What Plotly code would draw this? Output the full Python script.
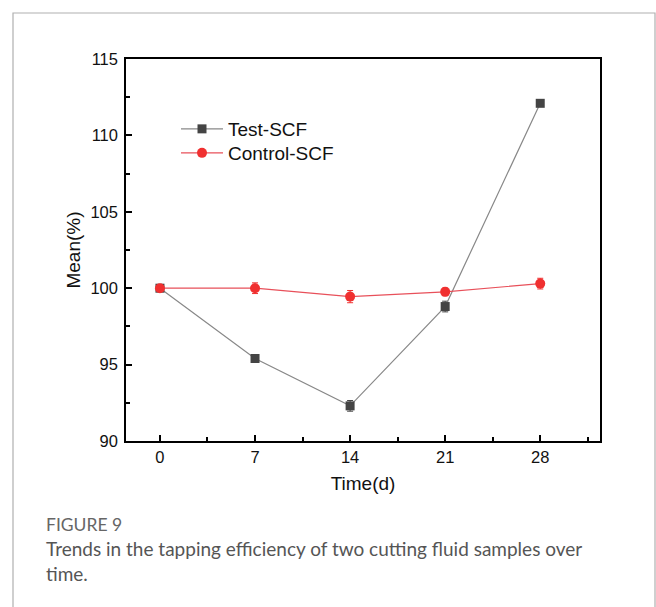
import plotly.graph_objects as go

days = [0, 7, 14, 21, 28]
test_mean = [100.0, 95.4, 92.3, 98.8, 112.1]
test_err = [0.1, 0.2, 0.35, 0.35, 0.15]
control_mean = [100.0, 100.0, 99.45, 99.76, 100.3]
control_err = [0.1, 0.35, 0.4, 0.25, 0.35]

x_ticks = [0, 7, 14, 21, 28]
y_ticks = [90, 95, 100, 105, 110, 115]

L, R, T, B = 126, 56, 59, 166
W, H = 656, 607
pw, ph = W - L - R, H - T - B

def px(x):
    return (x - L) / pw

def py(y):
    return (H - B - y) / ph

fig = go.Figure()
fig.add_trace(go.Scatter(
    x=days, y=test_mean, name="Test-SCF", mode="lines+markers",
    line=dict(color="#888888", width=1.2),
    marker=dict(symbol="square", size=9, color="#444444"),
    error_y=dict(type="data", array=test_err, visible=True, color="#444444", thickness=1, width=3),
    legend="legend",
))
fig.add_trace(go.Scatter(
    x=days, y=control_mean, name="Control-SCF", mode="lines+markers",
    line=dict(color="#e8505a", width=1.2),
    marker=dict(symbol="circle", size=10, color="#f03030"),
    error_y=dict(type="data", array=control_err, visible=True, color="#f03030", thickness=1, width=3),
    legend="legend2",
))

tick_font = dict(family="Liberation Sans, Arial", size=16.5, color="#111111")
title_font = dict(family="Liberation Sans, Arial", size=19, color="#111111")

fig.update_xaxes(
    range=[-2.5, 32.4], tickvals=x_ticks, tickfont=tick_font,
    showline=True, linecolor="black", linewidth=1.5, mirror=True,
    ticks="inside", ticklen=6, tickwidth=1.5, tickcolor="black",
    showgrid=False, zeroline=False,
    title=dict(text="Time(d)", font=title_font, standoff=12),
    minor=dict(ticks="inside", ticklen=4, tickwidth=1.5, tickcolor="black", dtick=3.5, tick0=0, showgrid=False),
)
fig.update_yaxes(
    range=[90, 115], tickvals=y_ticks, tickfont=tick_font,
    showline=True, linecolor="black", linewidth=1.5, mirror=True,
    ticks="inside", ticklen=6, tickwidth=1.5, tickcolor="black",
    showgrid=False, zeroline=False, ticklabelstandoff=3,
    title=dict(text="Mean(%)", font=title_font, standoff=5),
    minor=dict(ticks="inside", ticklen=4, tickwidth=1.5, tickcolor="black", dtick=2.5, tick0=90, showgrid=False),
)

# outer figure frame
fig.add_shape(type="rect", xref="paper", yref="paper",
              x0=px(13), x1=px(655), y0=py(13), y1=py(620),
              line=dict(color="#b0b0b0", width=1.2), fillcolor="rgba(0,0,0,0)", layer="below")

fig.add_annotation(xref="paper", yref="paper", x=px(44), y=py(524), xanchor="left", yanchor="middle",
                   text="FIGURE 9", showarrow=False,
                   font=dict(family="Lato, Open Sans", size=17.5, color="#666666"))
fig.add_annotation(xref="paper", yref="paper", x=px(44), y=py(561), xanchor="left", yanchor="middle",
                   text="Trends in the tapping efficiency of two cutting fluid samples over<br>time.",
                   showarrow=False, align="left",
                   font=dict(family="Lato, Open Sans", size=19, color="#555555"))

legend_common = dict(xanchor="left", yanchor="middle", bgcolor="rgba(0,0,0,0)", borderwidth=0,
                     font=dict(family="Liberation Sans, Arial", size=19, color="#111111"),
                     itemwidth=42)
fig.update_layout(
    width=W, height=H,
    margin=dict(l=L, r=R, t=T, b=B),
    paper_bgcolor="white", plot_bgcolor="white",
    showlegend=True,
    legend=dict(x=px(176), y=py(129), **legend_common),
    legend2=dict(x=px(176), y=py(153), **legend_common),
)

fig.write_html("out.html")
